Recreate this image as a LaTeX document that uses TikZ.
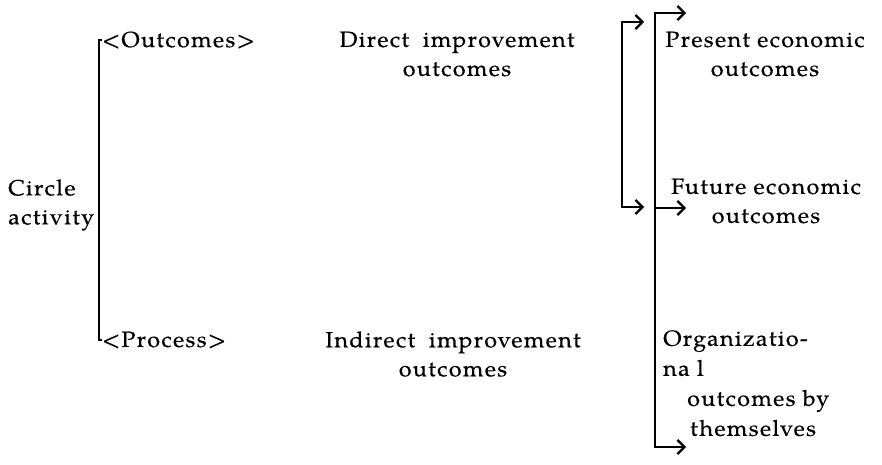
\documentclass[tikz,border=0pt]{standalone}
\usepackage{fontspec}
\setmainfont[FakeStretch=1.06,LetterSpace=6,FakeBold=0.4]{TeX Gyre Pagella}
\usetikzlibrary{arrows.meta}
\begin{document}
\begin{tikzpicture}[x=1pt,y=-1pt,
  lbl/.style={inner sep=0pt,font=\fontsize{22}{29}\selectfont},
  bracket/.style={line width=2.7pt},
  chev/.style={bracket,-{Straight Barb[length=7pt,width=14pt,line width=2.2pt]}}]
\useasboundingbox (0,0) rectangle (882,464);

% labels
\node[lbl,align=left,anchor=west] (ca) at (8,205) {Circle\\activity};
\node[lbl,anchor=west] (out) at (102,40) {<Outcomes>};
\node[lbl,anchor=west] (proc) at (102,340) {<Process>};
\node[lbl,align=center] (dio) at (457,54) {Direct\hspace{0.3em} improvement\\outcomes};
\node[lbl,align=center] (iio) at (453,354) {Indirect\hspace{0.3em} improvement\\outcomes};
\node[lbl,align=center] (peo) at (765,54) {Present economic\\outcomes};
\node[lbl,align=center] (feo) at (766,201) {Future economic\\outcomes};
\node[lbl,font=\fontsize{22}{30}\selectfont,align=left,anchor=north west] (org) at (663,330)
  {Organizatio-\\na l\\\hspace*{24pt}outcomes by\\\hspace*{27pt}themselves};

% left bracket
\coordinate (lb) at (99,190);
\draw[bracket] (out.west) -| (lb) |- (proc.west);

% inner right bracket with arrows at both ends
\coordinate (ib) at (622,115);
\coordinate (i1) at (644,22);
\coordinate (i2) at (644,207);
\draw[chev] (ib) |- (i1);
\draw[chev] (ib) |- (i2);

% outer right bracket with three arrows
\coordinate (ob) at (655,230);
\coordinate (o1) at (686,13);
\coordinate (o2) at (686,208);
\coordinate (o3) at (686,447);
\draw[chev] (ob) |- (o1);
\draw[chev] (ob) |- (o3);
\draw[chev] (ob |- o2) -- (o2);
\end{tikzpicture}
\end{document}
